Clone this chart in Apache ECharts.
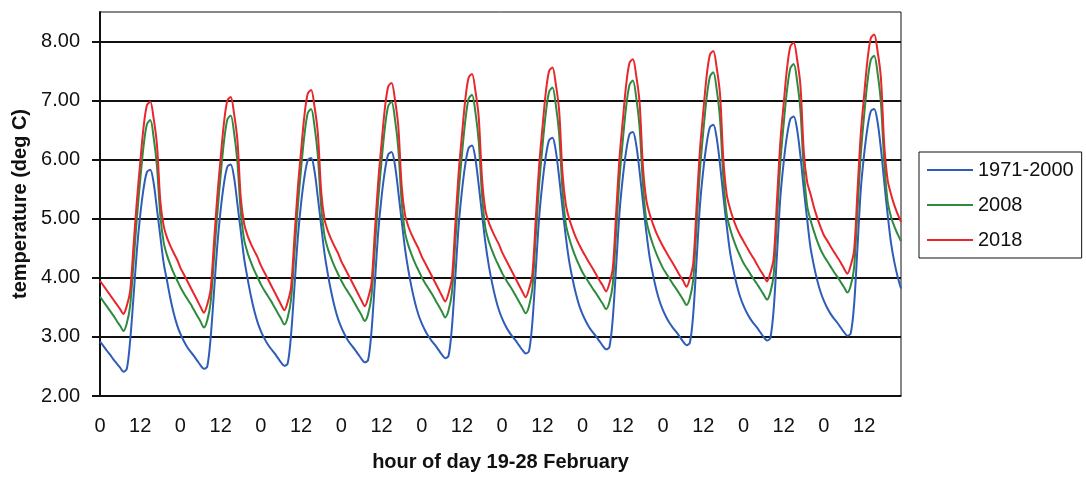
<!DOCTYPE html>
<html>
<head>
<meta charset="utf-8">
<title>Hourly temperature, 19-28 February</title>
<script src="https://cdn.jsdelivr.net/npm/echarts@6/dist/echarts.min.js"></script>
<style>
  html, body { margin: 0; padding: 0; background: #fff; }
  #chart { width: 1086px; height: 479px; }
</style>
</head>
<body>
<div id="chart"></div>
<script>
// Hour-of-day categories, 19-28 February (10 days x 24 hours)
const hours = [];
for (let d = 0; d < 10; d++) for (let h = 0; h < 24; h++) hours.push(String(h));

const seriesNames = ['1971-2000', '2008', '2018'];
const yTickValues = [2, 3, 4, 5, 6, 7, 8];

// Hourly temperatures (deg C), one row per day
const temps1971to2000 = [
  2.92,2.85,2.77,2.70,2.62,2.55,2.48,2.41,2.46,2.94,3.68,4.46,5.06,5.51,5.79,5.83,5.61,5.16,4.70,4.25,3.95,3.65,3.40,3.20,
  3.05,2.93,2.83,2.75,2.68,2.60,2.52,2.46,2.50,2.98,3.75,4.55,5.15,5.60,5.88,5.92,5.70,5.25,4.79,4.33,4.00,3.70,3.45,3.25,
  3.10,2.98,2.88,2.80,2.73,2.65,2.57,2.51,2.55,3.03,3.83,4.66,5.26,5.71,5.99,6.03,5.81,5.36,4.88,4.41,4.06,3.76,3.51,3.31,
  3.16,3.04,2.94,2.86,2.79,2.71,2.63,2.57,2.61,3.09,3.91,4.76,5.36,5.81,6.09,6.13,5.91,5.46,4.97,4.50,4.13,3.83,3.58,3.38,
  3.23,3.11,3.01,2.93,2.86,2.78,2.70,2.64,2.68,3.16,4.00,4.87,5.47,5.92,6.20,6.24,6.02,5.57,5.07,4.59,4.21,3.91,3.66,3.46,
  3.31,3.19,3.09,3.01,2.94,2.86,2.78,2.72,2.76,3.24,4.11,5.00,5.60,6.05,6.33,6.37,6.15,5.70,5.18,4.69,4.28,3.98,3.73,3.53,
  3.38,3.26,3.16,3.08,3.01,2.93,2.85,2.79,2.83,3.31,4.19,5.10,5.70,6.15,6.43,6.47,6.25,5.80,5.28,4.78,4.35,4.05,3.80,3.60,
  3.45,3.33,3.23,3.15,3.08,3.00,2.92,2.86,2.90,3.38,4.29,5.22,5.82,6.27,6.55,6.59,6.37,5.92,5.38,4.88,4.43,4.13,3.88,3.68,
  3.53,3.41,3.31,3.23,3.16,3.08,3.00,2.94,2.98,3.46,4.40,5.36,5.96,6.41,6.69,6.73,6.51,6.06,5.50,4.99,4.51,4.21,3.96,3.76,
  3.61,3.49,3.39,3.31,3.24,3.16,3.08,3.02,3.06,3.54,4.50,5.49,6.09,6.54,6.82,6.86,6.64,6.19,5.62,5.08,4.60,4.27,4.02,3.82
];

const temps2008 = [
  3.68,3.60,3.52,3.44,3.36,3.27,3.19,3.10,3.23,3.53,4.25,5.00,5.66,6.23,6.60,6.67,6.38,5.88,5.05,4.60,4.38,4.22,4.08,3.96,
  3.84,3.74,3.65,3.56,3.46,3.36,3.26,3.16,3.28,3.58,4.32,5.08,5.74,6.31,6.68,6.75,6.46,5.96,5.12,4.65,4.43,4.27,4.13,4.01,
  3.89,3.79,3.70,3.61,3.51,3.41,3.31,3.21,3.33,3.63,4.40,5.19,5.85,6.42,6.79,6.86,6.57,6.07,5.20,4.71,4.49,4.33,4.19,4.07,
  3.95,3.85,3.76,3.67,3.57,3.47,3.37,3.27,3.39,3.69,4.49,5.31,5.97,6.54,6.91,6.98,6.69,6.19,5.29,4.77,4.55,4.39,4.25,4.13,
  4.01,3.91,3.82,3.73,3.63,3.53,3.43,3.33,3.45,3.75,4.58,5.43,6.09,6.66,7.03,7.10,6.81,6.31,5.39,4.84,4.62,4.46,4.32,4.20,
  4.08,3.98,3.89,3.80,3.70,3.60,3.50,3.40,3.52,3.82,4.68,5.55,6.21,6.78,7.15,7.22,6.93,6.43,5.48,4.91,4.67,4.49,4.34,4.21,
  4.09,4.00,3.91,3.82,3.74,3.65,3.56,3.47,3.59,3.89,4.77,5.67,6.33,6.90,7.27,7.34,7.05,6.55,5.58,4.98,4.74,4.56,4.41,4.28,
  4.16,4.07,3.98,3.89,3.81,3.72,3.63,3.54,3.66,3.96,4.88,5.81,6.47,7.04,7.41,7.48,7.19,6.69,5.69,5.07,4.83,4.65,4.50,4.37,
  4.25,4.16,4.07,3.98,3.90,3.81,3.72,3.63,3.75,4.05,4.99,5.95,6.61,7.18,7.55,7.62,7.33,6.83,5.82,5.22,4.98,4.79,4.62,4.48,
  4.37,4.28,4.19,4.10,4.02,3.93,3.84,3.75,3.87,4.17,5.12,6.09,6.75,7.32,7.69,7.76,7.47,6.97,5.96,5.30,5.04,4.87,4.74,4.62
];

const temps2018 = [
  3.95,3.87,3.79,3.71,3.63,3.55,3.47,3.39,3.53,3.78,4.54,5.30,5.95,6.55,6.92,6.98,6.70,6.25,5.30,4.88,4.68,4.54,4.42,4.31,
  4.17,4.06,3.95,3.84,3.73,3.62,3.51,3.41,3.55,3.80,4.59,5.38,6.03,6.63,7.00,7.06,6.78,6.33,5.36,4.92,4.72,4.58,4.46,4.35,
  4.21,4.10,3.99,3.88,3.77,3.66,3.55,3.45,3.59,3.84,4.67,5.50,6.15,6.75,7.12,7.18,6.90,6.45,5.46,4.99,4.79,4.65,4.53,4.42,
  4.28,4.17,4.06,3.95,3.84,3.73,3.62,3.52,3.66,3.91,4.77,5.62,6.27,6.87,7.24,7.30,7.02,6.57,5.56,5.07,4.87,4.73,4.61,4.50,
  4.36,4.25,4.14,4.03,3.92,3.81,3.70,3.60,3.74,3.99,4.88,5.77,6.42,7.02,7.39,7.45,7.17,6.72,5.67,5.14,4.94,4.80,4.68,4.57,
  4.43,4.32,4.21,4.10,3.99,3.88,3.77,3.67,3.81,4.06,4.97,5.88,6.53,7.13,7.50,7.56,7.28,6.83,5.77,5.24,5.00,4.83,4.68,4.56,
  4.45,4.35,4.25,4.16,4.06,3.96,3.87,3.77,3.91,4.16,5.09,6.02,6.67,7.27,7.64,7.70,7.42,6.97,5.88,5.32,5.08,4.91,4.76,4.64,
  4.53,4.43,4.33,4.24,4.14,4.04,3.95,3.85,3.99,4.24,5.20,6.16,6.81,7.41,7.78,7.84,7.56,7.11,6.00,5.41,5.17,4.99,4.84,4.72,
  4.62,4.52,4.42,4.33,4.23,4.13,4.04,3.94,4.08,4.33,5.32,6.30,6.95,7.55,7.92,7.98,7.70,7.25,6.13,5.62,5.42,5.20,5.02,4.86,
  4.72,4.63,4.53,4.44,4.35,4.26,4.16,4.07,4.21,4.46,5.45,6.44,7.09,7.69,8.06,8.12,7.84,7.39,6.25,5.66,5.42,5.23,5.08,4.95
];

const lineColors = ['#2f5cb8', '#2e8b3e', '#e8262b'];
const FONT = 'Liberation Sans, Arial, sans-serif';

const chart = echarts.init(document.getElementById('chart'), null, { renderer: 'canvas' });

const seriesData = [temps1971to2000, temps2008, temps2018];

chart.setOption({
  backgroundColor: '#ffffff',
  animation: false,
  textStyle: { fontFamily: FONT, color: '#111' },
  grid: {
    left: 100, right: 185, top: 12, bottom: 83,
    show: true, borderColor: '#111', borderWidth: 1, backgroundColor: 'transparent'
  },
  legend: {
    orient: 'vertical',
    left: 919, top: 152,
    padding: [8, 8, 8, 8],
    icon: 'rect',
    itemWidth: 46, itemHeight: 2, itemGap: 15,
    borderColor: '#111', borderWidth: 1,
    textStyle: { fontFamily: FONT, fontSize: 20, color: '#111' },
    data: seriesNames
  },
  xAxis: {
    type: 'category',
    data: hours,
    boundaryGap: false,
    name: 'hour of day 19-28 February',
    nameLocation: 'middle',
    nameGap: 56,
    nameTextStyle: { fontFamily: FONT, fontSize: 20, fontWeight: 'bold', color: '#111' },
    axisLine: { lineStyle: { color: '#111', width: 1.5 } },
    axisTick: { show: false },
    axisLabel: { interval: 11, margin: 20, fontFamily: FONT, fontSize: 20, color: '#111' },
    splitLine: { show: false }
  },
  yAxis: {
    type: 'value',
    min: 2, max: 8.5, interval: 1,
    name: 'temperature (deg C)',
    nameLocation: 'middle',
    nameGap: 68,
    nameRotate: 90,
    nameTextStyle: { fontFamily: FONT, fontSize: 20, fontWeight: 'bold', color: '#111' },
    axisLine: { show: true, lineStyle: { color: '#111', width: 2 } },
    axisTick: { show: true, length: 8, customValues: yTickValues, lineStyle: { color: '#111', width: 2 } },
    axisLabel: {
      margin: 20, fontFamily: FONT, fontSize: 20, color: '#111',
      customValues: yTickValues,
      formatter: v => v.toFixed(2)
    },
    splitLine: { show: true, lineStyle: { color: '#111', width: 2 } }
  },
  series: seriesNames.map((name, i) => ({
    name,
    type: 'line',
    data: seriesData[i],
    symbol: 'none',
    showSymbol: false,
    smooth: 0.3,
    color: lineColors[i],
    lineStyle: { color: lineColors[i], width: 2 },
    itemStyle: { color: lineColors[i] },
    z: 3 + i
  }))
});
</script>
</body>
</html>
